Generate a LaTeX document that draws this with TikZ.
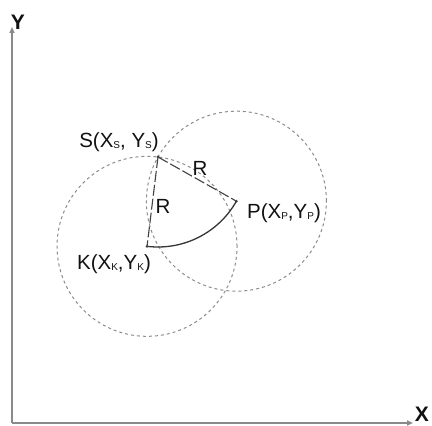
\documentclass[tikz,border=0pt]{standalone}
\usepackage{fontspec}
\setmainfont{Liberation Sans}
\usetikzlibrary{calc,arrows.meta}
\newcommand\sbs[1]{\raisebox{-1.2pt}{\fontsize{10}{12}\selectfont #1}}
\definecolor{circgray}{HTML}{8C8C8C}
\definecolor{axgray}{HTML}{8A8A8A}
\definecolor{txt}{HTML}{111111}
\tikzset{
  axis/.style={draw=axgray,line width=1.6pt,-{Triangle[length=6pt,width=5pt,fill=txt]}},
  helpcircle/.style={draw=circgray,line width=1pt,dash pattern=on 3pt off 3pt},
  radius line/.style={draw=txt!80,line width=1.1pt,dash pattern=on 11pt off 3pt},
  arcline/.style={draw=txt!85,line width=1.3pt},
  lbl/.style={text=txt,inner sep=0pt,font=\fontsize{20.5}{24}\selectfont},
  axlbl/.style={text=txt,inner sep=0pt,font=\fontsize{21}{24}\selectfont\bfseries},
  pt/.style={circle,fill=txt!80,inner sep=0pt,minimum size=3pt}
}
\begin{document}
\begin{tikzpicture}[x=1pt,y=1pt]
\useasboundingbox (0,0) rectangle (432,426);
% axes
\coordinate (O) at (12,3);
\coordinate (Ytip) at (12,399);
\coordinate (Xtip) at (413,3);
\draw[axis] (O) -- (Ytip);
\draw[axis] (O) -- (Xtip);
\node[axlbl] (Ylab) at (18,404) {Y};
\node[axlbl] (Xlab) at (422,12) {X};
% points
\coordinate (S) at (158,269);
\coordinate (K) at ($(S)+(263:90)$);
\coordinate (P) at ($(S)+(330.6:90)$);
% circles
\draw[helpcircle] (K) circle[radius=90];
\draw[helpcircle] (P) circle[radius=90];
% radii
\draw[radius line] (S) -- (K);
\draw[radius line] (S) -- (P);
% arc K -> P around S
\draw[arcline] (K) arc[start angle=263,end angle=330.6,radius=90];
\node[pt] (Sd) at (S) {};
\node[pt] (Kd) at (K) {};
\node[pt] (Pd) at (P) {};
% labels
\node[lbl] (Slab) at (119,284) {S(X\sbs{S}, Y\sbs{S})};
\node[lbl] (Klab) at (114,162) {K(X\sbs{K},Y\sbs{K})};
\node[lbl] (Plab) at (284,213) {P(X\sbs{P},Y\sbs{P})};
\node[lbl] (R1) at (163,220) {R};
\node[lbl] (R2) at (200,258) {R};
\end{tikzpicture}
\end{document}
